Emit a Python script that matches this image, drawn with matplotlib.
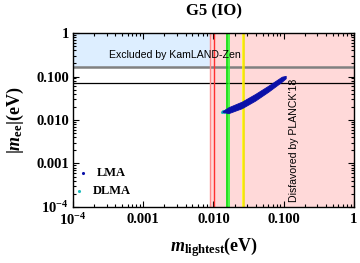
"""
G5 (IO) : |m_ee| vs m_lightest.
"""

import numpy as np
import matplotlib

matplotlib.use("Agg")
import matplotlib.pyplot as plt
from matplotlib.ticker import LogLocator, NullFormatter, FixedLocator

# Données
band_m = [0.0134, 0.0163, 0.0253, 0.0392, 0.0605, 0.094, 0.107]
band_lo = [0.0155, 0.0143, 0.0186, 0.0278, 0.0448, 0.076, 0.091]
band_hi = [0.0158, 0.0196, 0.0264, 0.0396, 0.0615, 0.0989, 0.1035]
dlma_m = [0.0134, 0.0138, 0.0143, 0.0148, 0.0153, 0.0158, 0.0140]
dlma_ee = [0.0155, 0.0158, 0.0161, 0.0164, 0.0168, 0.0172, 0.0151]

kamland_limit = 0.165
sens_line = 0.07
planck_edge = 0.009
red_lines = [0.0090, 0.0102]
green_lines = [0.0155, 0.0165]
yellow_lines = [0.0261, 0.0276]

tick_vals = [1e-4, 1e-3, 1e-2, 1e-1, 1]
xtick_labels = ["$10^{-4}$", "0.001", "0.010", "0.100", "1"]
ytick_labels = ["$10^{-4}$", "0.001", "0.010", "0.100", "1"]

plt.rcParams["mathtext.fontset"] = "custom"
plt.rcParams["mathtext.rm"] = "Liberation Serif:bold"
plt.rcParams["mathtext.it"] = "Liberation Serif:bold:italic"
plt.rcParams["mathtext.bf"] = "Liberation Serif:bold"

serif = {"family": "Liberation Serif", "weight": "bold"}

fig = plt.figure(figsize=(3.6, 2.63), dpi=100)
ax = fig.add_axes([0.2028, 0.213, 0.7802, 0.6615])
ax.set_xscale("log")
ax.set_yscale("log")
ax.set_xlim(1e-4, 1)
ax.set_ylim(1e-4, 1)

# zones exclues
ax.fill_between([1e-4, planck_edge], kamland_limit, 1, color="#ddeeff", lw=0, zorder=0)
ax.axvspan(planck_edge, 1, color="#ffd9d9", lw=0, zorder=0)
ax.axhline(kamland_limit, color="#808080", lw=1.8, zorder=1)
ax.axhline(sens_line, color="black", lw=0.9, zorder=1)

ax.axvline(red_lines[0], color="#ff8a8a", lw=1.0, zorder=2)
ax.axvline(red_lines[1], color="#ff3030", lw=1.0, zorder=2)
ax.axvline(green_lines[0], color="#00e000", lw=1.2, zorder=2)
ax.axvline(green_lines[1], color="#30ff30", lw=1.2, zorder=2)
ax.axvline(yellow_lines[0], color="#ffff00", lw=1.1, zorder=2)
ax.axvline(yellow_lines[1], color="#f0e000", lw=1.1, zorder=2)

# bande LMA
ax.fill_between(band_m, band_lo, band_hi, color="#0a10a8", lw=0.6, edgecolor="#0a10a8", zorder=3)
ax.scatter(dlma_m, dlma_ee, s=5, color="#1cbcbc", lw=0, zorder=2.9)

ax.text(3.3e-4, 0.27, "Excluded by KamLAND-Zen", fontsize=7.6, family="Liberation Sans", zorder=5)
ax.text(0.142, 1.3e-4, "Disfavored by PLANCK'18", fontsize=7.6, family="Liberation Sans",
        rotation=90, ha="center", va="bottom", zorder=5)

# légende
ax.scatter([1.39e-4], [6.05e-4], s=5, color="#0a10a8", lw=0, zorder=5)
ax.scatter([1.22e-4], [2.33e-4], s=5, color="#1cbcbc", lw=0, zorder=5)
ax.text(2.2e-4, 6.05e-4, "LMA", fontsize=9, va="center", **serif)
ax.text(1.93e-4, 2.33e-4, "DLMA", fontsize=9, va="center", **serif)

ax.xaxis.set_major_locator(FixedLocator(tick_vals))
ax.yaxis.set_major_locator(FixedLocator(tick_vals))
ax.set_xticklabels(xtick_labels, fontsize=10.5, **serif)
ax.set_yticklabels(ytick_labels, fontsize=10.5, **serif)
ax.xaxis.set_minor_locator(LogLocator(subs=np.arange(2, 10), numticks=20))
ax.yaxis.set_minor_locator(LogLocator(subs=np.arange(2, 10), numticks=20))
ax.xaxis.set_minor_formatter(NullFormatter())
ax.yaxis.set_minor_formatter(NullFormatter())
ax.tick_params(which="both", direction="in", top=True, right=True, width=0.8)
ax.tick_params(which="major", length=4, pad=3)
ax.tick_params(axis="x", which="major", pad=4)
ax.tick_params(which="minor", length=2)
for s in ax.spines.values():
    s.set_linewidth(1.0)

fig.text(0.5931, 0.955, "G5 (IO)", fontsize=12, ha="center", va="center", **serif)
fig.text(0.5931, 0.06, r"$m_{\mathrm{lightest}}$(eV)", fontsize=13, ha="center",
         va="center", **serif)
fig.text(0.042, 0.543, r"$|m_{\mathrm{ee}}|$(eV)", fontsize=13, ha="center",
         va="center", rotation=90, **serif)

fig.savefig("out.png", dpi=100)
